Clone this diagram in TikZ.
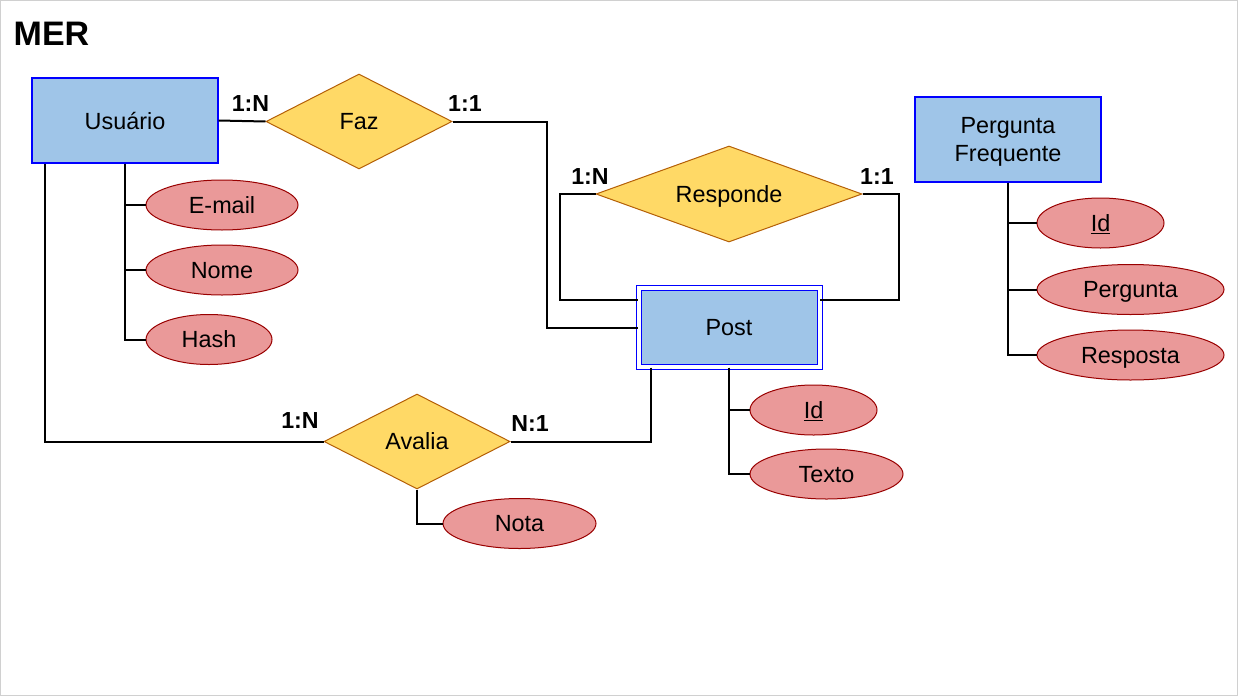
\documentclass[tikz,border=0pt]{standalone}
\usepackage{fontspec}
\setmainfont{Liberation Sans}
\usetikzlibrary{shapes.geometric,calc}

\definecolor{azulent}{HTML}{9FC5E8}
\definecolor{bordaent}{HTML}{0000FF}
\definecolor{amarelorel}{HTML}{FFD966}
\definecolor{bordarel}{HTML}{B45F06}
\definecolor{vermatr}{HTML}{EA9999}
\definecolor{bordaatr}{HTML}{990000}
\definecolor{moldura}{HTML}{D0D0D0}

\begin{document}
\begin{tikzpicture}[x=1pt, y=-1pt,
            every node/.style={font=\fontsize{23.4}{28}\selectfont, text depth=0pt},
            entidade/.style={draw=bordaent, line width=1.2pt, fill=azulent, minimum width=186pt, minimum height=85pt, align=center, inner sep=0pt},
            relacao/.style={diamond, draw=bordarel, line width=1pt, fill=amarelorel, aspect=2, inner sep=0pt},
            atributo/.style={ellipse, draw=bordaatr, line width=1pt, fill=vermatr, minimum height=50pt, inner sep=0pt},
            card/.style={font=\bfseries\fontsize{23.2}{26}\selectfont},
            linha/.style={line width=2pt}]
            \useasboundingbox (0,0) rectangle (1238,696);
            \draw[moldura] (0.5,0.5) rectangle (1237.5,695.5);

            \node[font=\bfseries\fontsize{34}{38}\selectfont] (titulo) at (51.5,34) {MER};

            % entidades e relacionamentos
            \node[entidade] (usuario) at (125,120.5) {Usuário};
            \node[relacao, minimum width=186pt, minimum height=95pt] (faz) at (359,121.5) {Faz};
            \node[relacao, minimum width=266pt, minimum height=96pt] (responde) at (729,194) {Responde};
            \node[entidade, double, double distance=4pt, line width=1pt, minimum width=181pt, minimum height=79pt] (post) at (729,327.5) {Post};
            \node[entidade] (pergunta) at (1008,139.5) {Pergunta\\Frequente};
            \node[relacao, minimum width=186pt, minimum height=95pt] (avalia) at (417,441.5) {Avalia};

            % atributos
            \node[atributo, minimum width=152pt] (email) at (222,205) {E-mail};
            \node[atributo, minimum width=152pt] (nome) at (222,270) {Nome};
            \node[atributo, minimum width=126pt] (hash) at (209,339.5) {Hash};
            \node[atributo, minimum width=127pt] (idpost) at (813.5,410) {\underline{Id}};
            \node[atributo, minimum width=153pt] (texto) at (826.5,474) {Texto};
            \node[atributo, minimum width=153pt] (nota) at (519.5,523.5) {Nota};
            \node[atributo, minimum width=127pt] (idpergunta) at (1100.5,223) {\underline{Id}};
            \node[atributo, minimum width=187pt] (textopergunta) at (1130.5,289.5) {Pergunta};
            \node[atributo, minimum width=187pt] (resposta) at (1130.5,355) {Resposta};

            % cardinalidades
            \node[card] (fazusuario) at (250.5,104) {1:N};
            \node[card] (fazpost) at (465,104) {1:1};
            \node[card] (respondeesq) at (590,177) {1:N};
            \node[card] (respondedir) at (877,177) {1:1};
            \node[card] (avaliausuario) at (300,421) {1:N};
            \node[card] (avaliapost) at (530,424) {N:1};

            \draw[linha] (usuario.east) -- (faz.west);
            \draw[linha] (faz.east) -- ++(94,0) |- (post.west);
            \draw[linha] (responde.west) -- ++(-36,0) |- ($(post.west)+(0,-28)$);
            \draw[linha] (responde.east) -- ++(36,0) |- ($(post.east)+(0,-28)$);
            \draw[linha] ($(usuario.south west)+(14,0)$) |- (avalia.west);
            \draw[linha] ($(post.south west)+(12.5,0)$) |- (avalia.east);

            \draw[linha] (usuario.south) |- (email.west);
            \draw[linha] (usuario.south) |- (nome.west);
            \draw[linha] (usuario.south) |- (hash.west);
            \draw[linha] (post.south) |- (idpost.west);
            \draw[linha] (post.south) |- (texto.west);
            \draw[linha] (avalia.south) |- (nota.west);
            \draw[linha] (pergunta.south) |- (idpergunta.west);
            \draw[linha] (pergunta.south) |- (textopergunta.west);
            \draw[linha] (pergunta.south) |- (resposta.west);
        \end{tikzpicture}
\end{document}
